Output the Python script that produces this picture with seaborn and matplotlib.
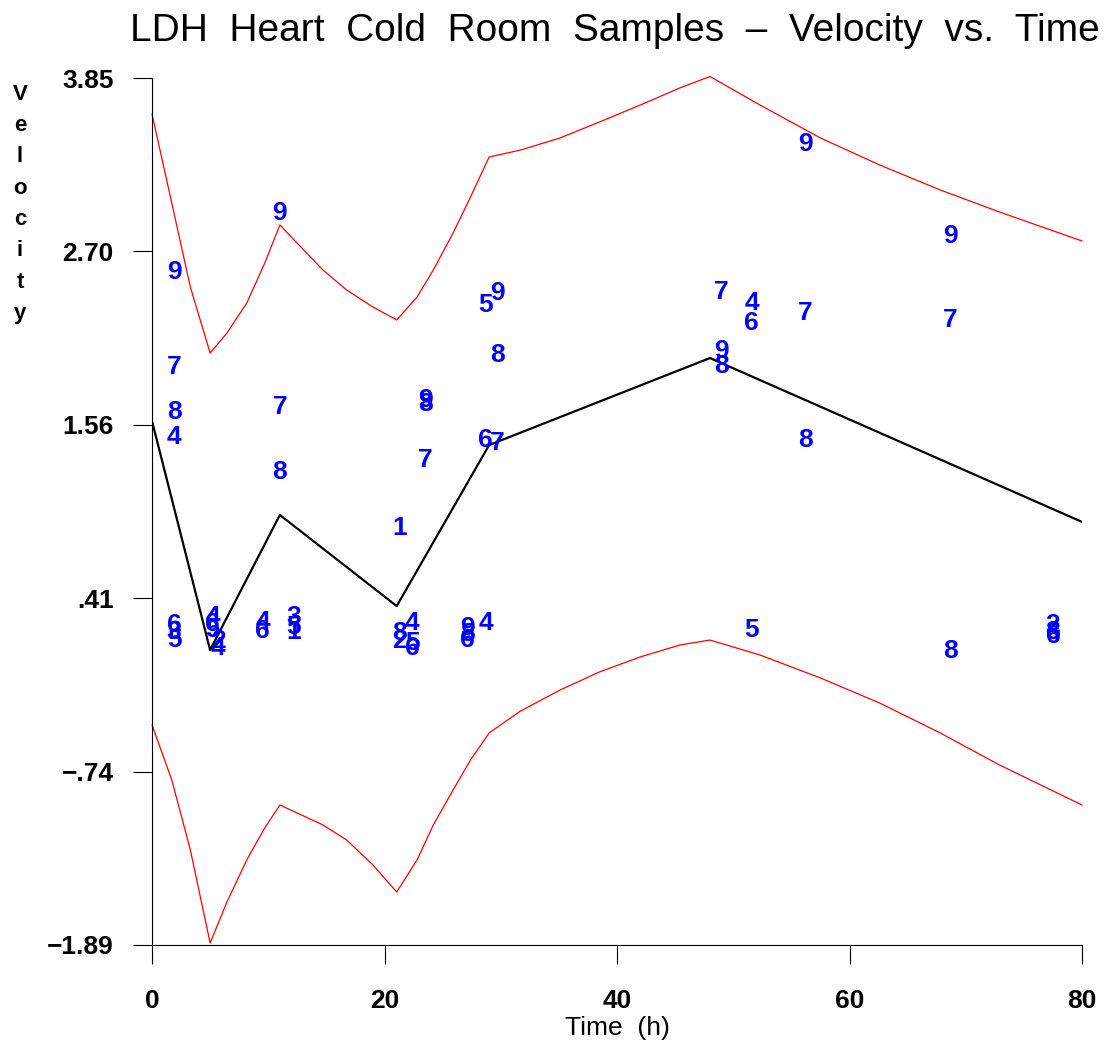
import numpy as np
import pandas as pd
import matplotlib
matplotlib.use("Agg")
import matplotlib.pyplot as plt
import seaborn as sns

# Observed velocities, labelled by sample number
sample_id = [9, 7, 8, 4, 6, 3, 5,
             4, 6, 5, 2, 4,
             4, 6,
             9, 7, 8,
             3, 5, 1,
             1, 8, 2,
             4, 5, 6,
             9, 8, 7,
             9, 8, 6,
             5, 6, 4,
             9, 8, 7,
             7, 9, 8,
             4, 6, 5,
             9, 7, 8,
             9, 7, 8,
             2, 8, 6]
sample_time = [1.9, 1.9, 1.9, 1.9, 1.9, 1.9, 1.9,
               5.2, 5.2, 5.2, 5.7, 5.7,
               9.5, 9.5,
               11.0, 11.0, 11.0,
               12.2, 12.2, 12.2,
               21.3, 21.3, 21.3,
               22.4, 22.4, 22.4,
               23.5, 23.5, 23.5,
               27.1, 27.1, 27.1,
               28.7, 28.7, 28.7,
               29.7, 29.7, 29.7,
               49.0, 49.0, 49.0,
               51.6, 51.6, 51.6,
               56.2, 56.2, 56.2,
               68.7, 68.7, 68.7,
               77.5, 77.5, 77.5]
sample_velocity = [2.566, 1.937, 1.639, 1.473, 0.229, 0.182, 0.129,
                   0.282, 0.235, 0.196, 0.123, 0.076,
                   0.249, 0.189,
                   2.956, 1.672, 1.242,
                   0.282, 0.215, 0.182,
                   0.871, 0.176, 0.123,
                   0.242, 0.110, 0.076,
                   1.718, 1.692, 1.321,
                   0.209, 0.169, 0.129,
                   2.347, 1.453, 0.242,
                   2.427, 2.016, 1.434,
                   2.433, 2.043, 1.943,
                   2.360, 2.228, 0.196,
                   3.413, 2.294, 1.453,
                   2.804, 2.248, 0.057,
                   0.229, 0.182, 0.156]

# Fitted mean curve
fit_time = [0.0, 5.0, 11.0, 21.05, 29.0, 48.0, 80.0]
fit_velocity = [1.579, 0.063, 0.957, 0.354, 1.420, 1.996, 0.911]

# Prediction band
band_time = [0.0, 1.7, 3.3, 5.0, 6.45, 8.15, 9.7, 11.0, 14.7, 16.75, 19.0,
             21.05, 22.8, 24.2, 25.9, 27.4, 29.0, 31.7, 35.1, 38.5, 42.0,
             45.4, 48.0, 52.3, 57.5, 62.6, 67.8, 72.9, 80.0]
band_upper = [3.612, 3.022, 2.466, 2.029, 2.162, 2.360, 2.625, 2.877, 2.579,
              2.446, 2.334, 2.248, 2.400, 2.579, 2.824, 3.062, 3.327, 3.373,
              3.453, 3.559, 3.671, 3.784, 3.860, 3.671, 3.453, 3.274, 3.109,
              2.963, 2.771]
band_lower = [-0.433, -0.797, -1.261, -1.877, -1.605, -1.327, -1.115, -0.963,
              -1.095, -1.195, -1.360, -1.539, -1.327, -1.095, -0.864, -0.665,
              -0.486, -0.341, -0.202, -0.082, 0.017, 0.096, 0.129, 0.030,
              -0.122, -0.288, -0.486, -0.698, -0.963]

x_ticks = [0, 20, 40, 60, 80]
y_tick_labels = ["\u22121.89", "\u2212.74", ".41", "1.56", "2.70", "3.85"]

sns.set_style("white")
plt.rcParams["font.family"] = ["Liberation Sans", "DejaVu Sans"]
plt.rcParams["text.color"] = "black"
plt.rcParams["xtick.color"] = "black"
plt.rcParams["ytick.color"] = "black"
plt.rcParams["xtick.labelcolor"] = "black"
plt.rcParams["ytick.labelcolor"] = "black"

W, H = 1110, 1041
fig = plt.figure(figsize=(W / 100, H / 100), dpi=100)
ax = fig.add_axes([152 / W, 1 - 945 / H, 930 / W, 867 / H])

fit_df = pd.DataFrame({"time": fit_time, "velocity": fit_velocity})
band_df = pd.DataFrame({"time": band_time, "upper": band_upper, "lower": band_lower})

sns.lineplot(data=band_df, x="time", y="upper", color="red", linewidth=0.9,
             sort=False, estimator=None, ax=ax, clip_on=False)
sns.lineplot(data=band_df, x="time", y="lower", color="red", linewidth=0.9,
             sort=False, estimator=None, ax=ax, clip_on=False)
sns.lineplot(data=fit_df, x="time", y="velocity", color="black", linewidth=1.6,
             sort=False, estimator=None, ax=ax)

for sid, t, v in zip(sample_id, sample_time, sample_velocity):
    ax.text(t, v, str(sid), color="#0000ff", fontsize=19, fontweight="bold",
            ha="center", va="center")

ax.set_xlim(0, 80)
ax.set_ylim(-1.89, 3.85)
ax.set_xticks(x_ticks)
ax.set_xticklabels([str(x) for x in x_ticks])
ax.set_yticks(np.linspace(-1.89, 3.85, 6))
ax.set_yticklabels(y_tick_labels)
ax.set_xlabel("")
ax.set_ylabel("")

for side in ("top", "right"):
    ax.spines[side].set_visible(False)
for side in ("left", "bottom"):
    ax.spines[side].set_color("black")
    ax.spines[side].set_linewidth(0.8)

ax.tick_params(axis="both", direction="out", length=13.5, width=0.8,
               color="black", labelcolor="black", labelsize=19)
ax.tick_params(axis="y", pad=14, left=True)
ax.tick_params(axis="x", pad=18, bottom=True)
for lab in ax.get_xticklabels() + ax.get_yticklabels():
    lab.set_fontweight("bold")
    lab.set_color("black")

fig.text(617 / W, 1 - 1028 / H, "Time  (h)", fontsize=19, color="black",
         ha="center", va="center")

for i, ch in enumerate("Velocity"):
    fig.text(20 / W, 1 - (94 + 31.4 * i) / H, ch, fontsize=16, fontweight="bold",
             color="black", ha="center", va="center")

fig.text(615 / W, 1 - 31 / H,
         "LDH  Heart  Cold  Room  Samples  \u2013  Velocity  vs.  Time",
         fontsize=28, color="black", ha="center", va="center")

fig.savefig("out.png", dpi=100)
